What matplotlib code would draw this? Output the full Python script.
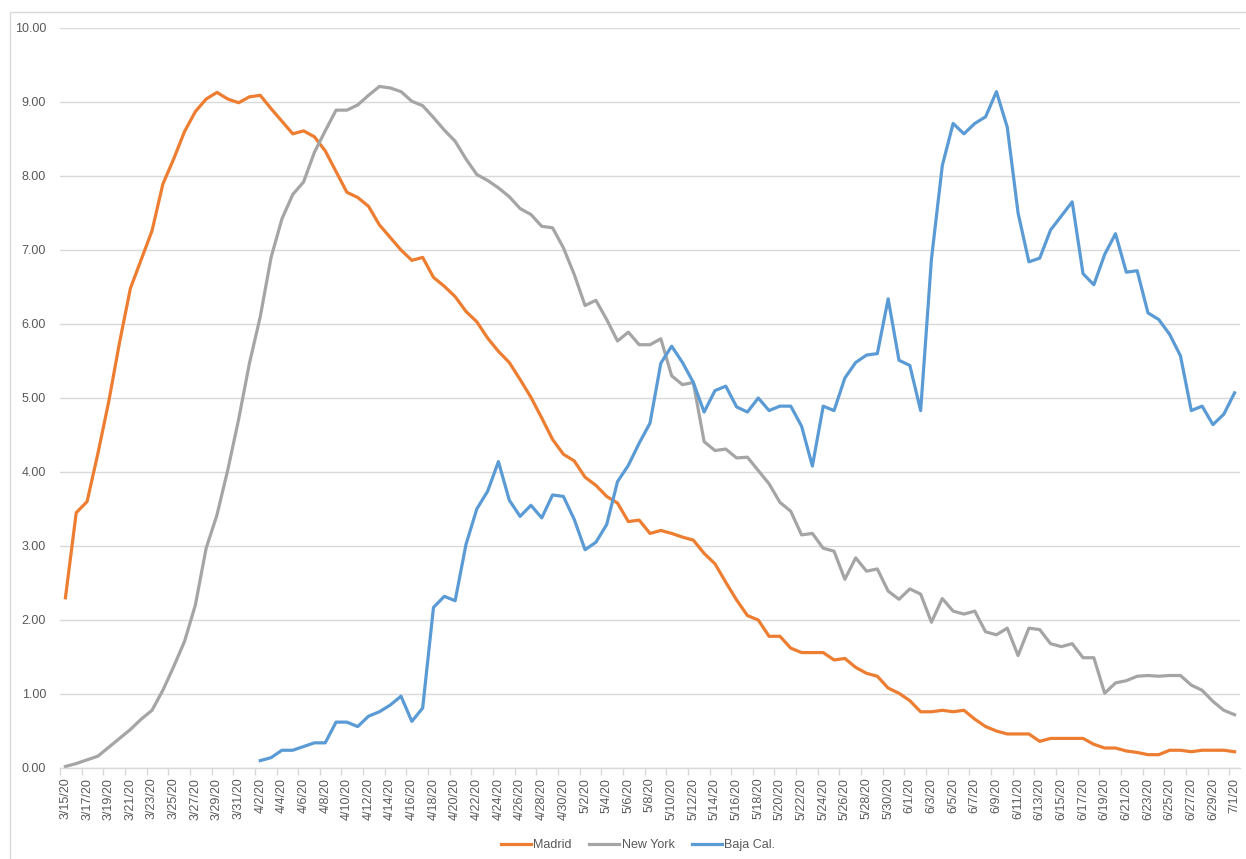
import matplotlib.pyplot as plt
import matplotlib.patches as mpatches
import numpy as np
import pandas as pd

dates = pd.date_range("2020-03-15", "2020-07-01", freq="D")
date_labels = [f"{d.month}/{d.day}/{d.year % 100}" for d in dates]

madrid = [2.30, 3.45, 3.60, 4.25, 4.95, 5.75, 6.48, 6.87, 7.26, 7.89, 8.23, 8.60, 8.87, 9.04, 9.13,
          9.04, 8.99, 9.07, 9.09, 8.91, 8.74, 8.57, 8.61, 8.53, 8.34, 8.06, 7.78, 7.71, 7.59, 7.34,
          7.17, 7.00, 6.86, 6.90, 6.63, 6.51, 6.37, 6.17, 6.03, 5.81, 5.63, 5.48, 5.25, 5.01, 4.73,
          4.44, 4.24, 4.15, 3.93, 3.82, 3.67, 3.58, 3.33, 3.35, 3.17, 3.21, 3.17, 3.12, 3.08, 2.90,
          2.76, 2.51, 2.27, 2.06, 2.00, 1.78, 1.78, 1.62, 1.56, 1.56, 1.56, 1.46, 1.48, 1.36, 1.28,
          1.24, 1.08, 1.01, 0.91, 0.76, 0.76, 0.78, 0.76, 0.78, 0.66, 0.56, 0.50, 0.46, 0.46, 0.46,
          0.36, 0.40, 0.40, 0.40, 0.40, 0.32, 0.27, 0.27, 0.23, 0.21, 0.18, 0.18, 0.24, 0.24, 0.22,
          0.24, 0.24, 0.24, 0.22]

new_york = [0.02, 0.06, 0.11, 0.16, 0.28, 0.40, 0.52, 0.66, 0.78, 1.05, 1.37, 1.71, 2.20, 2.97, 3.42,
            4.03, 4.71, 5.47, 6.10, 6.90, 7.42, 7.75, 7.92, 8.32, 8.61, 8.89, 8.89, 8.96, 9.09, 9.21,
            9.19, 9.14, 9.01, 8.95, 8.79, 8.62, 8.47, 8.23, 8.02, 7.94, 7.84, 7.72, 7.56, 7.48, 7.32,
            7.30, 7.03, 6.67, 6.25, 6.32, 6.06, 5.77, 5.89, 5.72, 5.72, 5.80, 5.30, 5.18, 5.21, 4.41,
            4.29, 4.31, 4.19, 4.20, 4.02, 3.84, 3.59, 3.47, 3.15, 3.17, 2.97, 2.93, 2.55, 2.84, 2.66,
            2.69, 2.39, 2.28, 2.42, 2.35, 1.97, 2.29, 2.12, 2.08, 2.12, 1.84, 1.80, 1.89, 1.52, 1.89,
            1.87, 1.68, 1.64, 1.68, 1.49, 1.49, 1.01, 1.15, 1.18, 1.24, 1.25, 1.24, 1.25, 1.25, 1.12,
            1.05, 0.90, 0.78, 0.72]

baja_cal = [np.nan] * 18 + [
    0.10, 0.14, 0.24, 0.24, 0.29, 0.34, 0.34, 0.62, 0.62, 0.56, 0.70, 0.76, 0.85, 0.97, 0.63,
    0.81, 2.17, 2.32, 2.26, 3.02, 3.50, 3.74, 4.14, 3.62, 3.40, 3.55, 3.38, 3.69, 3.67, 3.36,
    2.95, 3.05, 3.29, 3.87, 4.09, 4.39, 4.66, 5.47, 5.70, 5.48, 5.21, 4.81, 5.10, 5.16, 4.88,
    4.81, 5.00, 4.83, 4.89, 4.89, 4.62, 4.08, 4.89, 4.83, 5.27, 5.48, 5.58, 5.60, 6.34, 5.51,
    5.44, 4.83, 6.88, 8.14, 8.71, 8.57, 8.71, 8.80, 9.14, 8.66, 7.50, 6.84, 6.89, 7.27, 7.46,
    7.65, 6.68, 6.53, 6.94, 7.22, 6.70, 6.72, 6.15, 6.06, 5.86, 5.57, 4.83, 4.89, 4.64, 4.78,
    5.07]

plt.rcParams['font.family'] = ['Liberation Sans', 'DejaVu Sans']

fig = plt.figure(figsize=(12.46, 8.59), dpi=100)
ax = fig.add_axes([60 / 1246, 91 / 859, 1180 / 1246, 740 / 859])

# chart border
fig.patches.append(mpatches.Rectangle((10 / 1246, -0.01), 1.2, (859 - 12) / 859 + 0.01,
                                      transform=fig.transFigure, fill=False,
                                      edgecolor='#D9D9D9', linewidth=1))

x = np.arange(len(dates))
ax.plot(x, madrid, color='#ED7D31', linewidth=2.3, label='Madrid', solid_joinstyle='round')
ax.plot(x, new_york, color='#A5A5A5', linewidth=2.3, label='New York', solid_joinstyle='round')
ax.plot(x, baja_cal, color='#5B9BD5', linewidth=2.3, label='Baja Cal.', solid_joinstyle='round')

ax.set_xlim(-0.5, len(dates) - 0.5)
ax.set_ylim(0, 10)
ax.set_yticks(np.arange(0, 11, 1))
ax.set_yticklabels([f"{v:.2f}" for v in np.arange(0, 11, 1)])
ax.yaxis.grid(True, color='#D9D9D9', linewidth=1)
ax.set_axisbelow(True)

ax.set_xticks(x[::2])
ax.set_xticklabels(date_labels[::2], rotation=90)
ax.set_xticks(np.arange(-0.5, len(dates), 2), minor=True)
ax.tick_params(axis='x', which='major', length=0, pad=7, labelsize=9, colors='#595959')
ax.tick_params(axis='x', which='minor', length=5, color='#D9D9D9', width=1)
ax.tick_params(axis='y', length=0, pad=10, labelsize=9, colors='#595959')

for s in ['top', 'right', 'left']:
    ax.spines[s].set_visible(False)
ax.spines['bottom'].set_color('#D9D9D9')
ax.spines['bottom'].set_linewidth(1)

fig.legend(loc='lower center', bbox_to_anchor=(0.512, -0.004), ncol=3, frameon=False,
           fontsize=9, handlelength=2.4, handletextpad=0.2, columnspacing=1.4,
           labelcolor='#595959')

fig.savefig('out.png', dpi=100)
